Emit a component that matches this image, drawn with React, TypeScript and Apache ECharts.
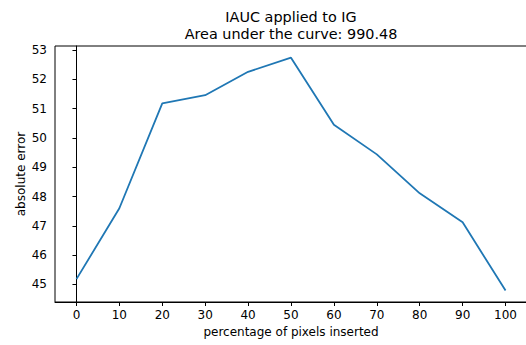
import React, { useEffect, useRef } from "react";
import * as echarts from "echarts";

// Percentage of pixels inserted and the absolute error measured at each step
const percentages = [0, 10, 20, 30, 40, 50, 60, 70, 80, 90, 100];
const absoluteError = [45.18, 47.6, 51.18, 51.46, 52.26, 52.74, 50.45, 49.44, 48.11, 47.12, 44.79];
const xTickValues = [0, 10, 20, 30, 40, 50, 60, 70, 80, 90, 100];
const yTickValues = [45, 46, 47, 48, 49, 50, 51, 52, 53];

const titleLines = ["IAUC applied to IG", "Area under the curve: 990.48"];
const xAxisName = "percentage of pixels inserted";
const yAxisName = "absolute error";

const FONT = "DejaVu Sans";

export default function App() {
  const ref = useRef<HTMLDivElement>(null);

  useEffect(() => {
    if (!ref.current) return;
    const chart = echarts.init(ref.current, null, { renderer: "svg" });
    const points = percentages.map((p, i) => [p, absoluteError[i]]);
    chart.setOption({
      animation: false,
      backgroundColor: "#ffffff",
      title: {
        text: titleLines.join("\n"),
        left: 291,
        top: 8,
        textAlign: "center",
        padding: 0,
        textStyle: {
          fontFamily: FONT,
          fontSize: 14.4,
          fontWeight: "normal",
          color: "#000",
          lineHeight: 17,
        },
      },
      grid: {
        left: 55,
        top: 46,
        right: -1,
        bottom: 43,
        show: true,
        borderColor: "#000",
        borderWidth: 1,
        backgroundColor: "transparent",
        outerBoundsMode: "none",
        containLabel: false,
      },
      xAxis: {
        type: "value",
        min: -5,
        max: 105,
        name: xAxisName,
        nameLocation: "middle",
        nameGap: 24,
        nameMoveOverlap: false,
        nameTextStyle: { fontFamily: FONT, fontSize: 12, color: "#000" },
        splitLine: { show: false },
        axisLine: { show: true, lineStyle: { color: "#000", width: 1 } },
        axisTick: {
          show: true,
          length: 4,
          customValues: xTickValues,
          lineStyle: { color: "#000", width: 1 },
        },
        axisLabel: {
          customValues: xTickValues,
          margin: 7,
          fontFamily: FONT,
          fontSize: 12,
          color: "#000",
        },
      },
      yAxis: {
        type: "value",
        min: 44.4,
        max: 53.14,
        name: yAxisName,
        nameLocation: "middle",
        nameRotate: 90,
        nameGap: 28,
        nameMoveOverlap: false,
        nameTextStyle: { fontFamily: FONT, fontSize: 12, color: "#000" },
        splitLine: { show: false },
        axisLine: { show: true, lineStyle: { color: "#000", width: 1 } },
        axisTick: {
          show: true,
          length: 4,
          customValues: yTickValues,
          lineStyle: { color: "#000", width: 1 },
        },
        axisLabel: {
          customValues: yTickValues,
          margin: 8,
          fontFamily: FONT,
          fontSize: 12,
          color: "#000",
        },
      },
      series: [
        {
          type: "line",
          data: points,
          symbol: "none",
          lineStyle: { color: "#1f77b4", width: 1.8 },
          itemStyle: { color: "#1f77b4" },
        },
      ],
    });
    return () => chart.dispose();
  }, []);

  return (
    <div
      ref={ref}
      style={{ position: "fixed", left: 0, top: 0, width: 526, height: 345 }}
    />
  );
}
